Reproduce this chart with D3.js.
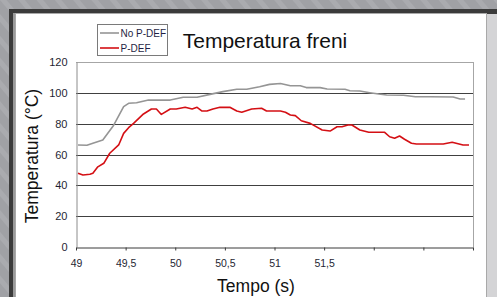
<!DOCTYPE html>
<html>
<head>
<meta charset="utf-8">
<script src="https://cdn.jsdelivr.net/npm/d3@7"></script>
<style>
  html, body { margin: 0; padding: 0; background: #9fa0a4; }
  svg { display: block; font-family: Arial, "Liberation Sans", sans-serif; }
</style>
</head>
<body>
<div id="chart"></div>
<script>
// data
const grayTime = [49.02, 49.11, 49.17, 49.27, 49.38, 49.48, 49.53, 49.61, 49.73, 49.95, 50.08, 50.22, 50.35, 50.48, 50.62, 50.72, 50.85, 50.95, 51.06, 51.16, 51.26, 51.32, 51.46, 51.53, 51.71, 51.76, 51.86, 51.96, 52.05, 52.13, 52.30, 52.42, 52.57, 52.80, 52.87, 52.92];
const grayTemp = [66.2, 66, 67.3, 69.4, 79, 91, 93.2, 93.6, 95.3, 95.3, 97.1, 97.1, 99, 100.8, 102.3, 102.3, 104, 105.5, 106.1, 104.6, 104.6, 103.4, 103.4, 102.5, 102.3, 101.4, 101.2, 100.1, 99.2, 98.6, 98.4, 97.5, 97.5, 97.3, 96, 96];

const redTime = [49.02, 49.07, 49.14, 49.17, 49.22, 49.28, 49.34, 49.43, 49.48, 49.53, 49.58, 49.68, 49.76, 49.81, 49.86, 49.95, 50.01, 50.10, 50.17, 50.22, 50.27, 50.32, 50.38, 50.45, 50.55, 50.62, 50.67, 50.77, 50.87, 50.92, 51.06, 51.11, 51.16, 51.21, 51.27, 51.36, 51.48, 51.56, 51.63, 51.68, 51.74, 51.78, 51.86, 51.95, 52.11, 52.16, 52.21, 52.26, 52.31, 52.38, 52.43, 52.70, 52.79, 52.90, 52.96];
const redTemp = [47.8, 46.7, 47.2, 47.8, 52, 54.3, 60.8, 66.2, 73.7, 77.4, 80.2, 86.3, 89.5, 89.5, 86, 89.5, 89.5, 90.6, 89.5, 90.6, 88.2, 88.2, 89.5, 90.6, 90.6, 88.2, 87.4, 89.5, 90, 88.2, 88.2, 87.4, 85.6, 85.2, 81.9, 80.2, 75.9, 75.2, 78, 78, 79.1, 79.1, 75.9, 74.4, 74.4, 71.5, 70.5, 72, 69.9, 67.3, 66.8, 66.8, 67.9, 66.2, 66.2];

const seriesNames = ["No P-DEF", "P-DEF"];
const seriesColors = ["#959595", "#d40f14"];

const xTicks = [49, 49.5, 50, 50.5, 51, 51.5, 52, 52.5, 53];
const xTickLabels = ["49", "49,5", "50", "50,5", "51", "51,5", "", "", ""];
const yTicks = [0, 20, 40, 60, 80, 100, 120];

const W = 497, H = 297;
const margin = {top: 62, right: 24, bottom: 50, left: 76};

const svg = d3.select('#chart').append('svg')
    .attr('width', W)
    .attr('height', H);

// striped grey backdrop
const pat = svg.append('defs').append('pattern')
    .attr('id', 'stripes')
    .attr('width', 14).attr('height', 14)
    .attr('patternUnits', 'userSpaceOnUse')
    .attr('patternTransform', 'rotate(-40)');
pat.append('rect').attr('width', 14).attr('height', 14).attr('fill', '#a0a1a5');
pat.append('rect').attr('width', 5).attr('height', 14).attr('fill', '#aaabaf');

svg.append('rect').attr('width', W).attr('height', H).attr('fill', 'url(#stripes)');

// dark frame + white panel
svg.append('rect').attr('x', 9).attr('y', 9).attr('width', W - 9).attr('height', H - 9).attr('fill', '#3b3b3b');
svg.append('rect').attr('x', 487).attr('y', 14).attr('width', 10).attr('height', H - 14).attr('fill', '#d4d4d6');
svg.append('rect').attr('x', 13).attr('y', 13).attr('width', 3).attr('height', H - 13).attr('fill', '#9a9a9a');
svg.append('rect')
    .attr('x', 15.5).attr('y', 13.5).attr('width', 471).attr('height', H)
    .attr('fill', '#fff').attr('stroke', '#a9a9a9');

const x = d3.scaleLinear().domain([49, 53]).range([margin.left, W - margin.right]);
const y = d3.scaleLinear().domain([0, 120]).range([H - margin.bottom, margin.top]);

const plot = svg.append('g');

// horizontal gridlines
plot.selectAll('line.grid')
    .data(yTicks.filter(d => d > 0))
    .join('line')
    .classed('grid', true)
    .attr('x1', x(49)).attr('x2', x(53))
    .attr('y1', d => Math.round(y(d)) + 0.5)
    .attr('y2', d => Math.round(y(d)) + 0.5)
    .attr('stroke', d => d === 120 ? '#a6a6a6' : '#404040')
    .attr('stroke-width', 1);

// right border of plot area
plot.append('line')
    .attr('x1', Math.round(x(53)) + 0.5).attr('x2', Math.round(x(53)) + 0.5)
    .attr('y1', y(120)).attr('y2', y(0))
    .attr('stroke', '#a6a6a6');

// y axis
const yAxis = svg.append('g')
    .attr('transform', `translate(${Math.round(x(49)) + 0.5},0)`)
    .call(d3.axisLeft(y).tickValues(yTicks).tickSize(0).tickPadding(9));
yAxis.select('.domain').attr('stroke', '#8c8c8c');
yAxis.selectAll('text').attr('font-size', 11).attr('fill', '#1f1f33');

// x axis
const xAxis = svg.append('g')
    .attr('transform', `translate(0,${Math.round(y(0)) + 0.5})`)
    .call(d3.axisBottom(x).tickValues(xTicks).tickSize(3).tickSizeOuter(0).tickPadding(9)
        .tickFormat((d, i) => xTickLabels[i]));
xAxis.select('.domain').attr('stroke', '#3a3a3a');
xAxis.selectAll('line').attr('stroke', '#3a3a3a');
xAxis.selectAll('text').attr('font-size', 10.5).attr('fill', '#1f1f33');

// series lines
const line = d3.line().x(d => x(d[0])).y(d => y(d[1]));
const series = [
    d3.zip(grayTime, grayTemp),
    d3.zip(redTime, redTemp)
];
plot.selectAll('path.series')
    .data(series)
    .join('path')
    .classed('series', true)
    .attr('d', line)
    .attr('fill', 'none')
    .attr('stroke', (d, i) => seriesColors[i])
    .attr('stroke-width', 1.6)
    .attr('stroke-linejoin', 'round');

// title
svg.append('text')
    .attr('x', 265).attr('y', 48)
    .attr('text-anchor', 'middle')
    .attr('font-size', 21)
    .attr('fill', '#111')
    .text('Temperatura freni');

// axis titles
svg.append('text')
    .attr('transform', 'translate(38,156) rotate(-90)')
    .attr('text-anchor', 'middle')
    .attr('font-size', 17.5)
    .attr('fill', '#111')
    .text('Temperatura (°C)');

svg.append('text')
    .attr('x', 256).attr('y', 292)
    .attr('text-anchor', 'middle')
    .attr('font-size', 17.5)
    .attr('fill', '#111')
    .text('Tempo (s)');

// legend
const legend = svg.append('g');
legend.append('rect')
    .attr('x', 97.5).attr('y', 24.5).attr('width', 70).attr('height', 31)
    .attr('fill', '#fff').attr('stroke', '#7a7a7a');
const items = legend.selectAll('g.item')
    .data(seriesNames)
    .join('g')
    .classed('item', true)
    .attr('transform', (d, i) => `translate(0,${33 + i * 15})`);
items.append('line')
    .attr('x1', 100).attr('x2', 119)
    .attr('stroke', (d, i) => seriesColors[i])
    .attr('stroke-width', 1.6);
items.append('text')
    .attr('x', 120.5).attr('dy', '0.35em')
    .attr('font-size', 10)
    .attr('fill', '#1f1f44')
    .text(d => d);
</script>
</body>
</html>
